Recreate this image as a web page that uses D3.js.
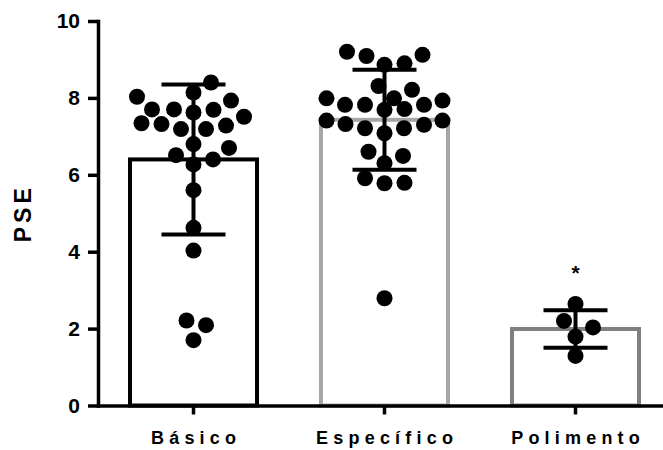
<!DOCTYPE html>
<html>
<head>
<meta charset="utf-8">
<script src="https://cdn.jsdelivr.net/npm/d3@7"></script>
<style>
  html, body { margin: 0; padding: 0; background: #fff; }
  svg { display: block; }
  text { font-family: "Liberation Sans", Arial, sans-serif; font-weight: bold; }
</style>
</head>
<body>
<script>
// PSE per group: individual scores, group mean and SD
const categories = ["Básico", "Específico", "Polimento"];
const basicoValues = [8.40, 8.03, 8.14, 7.93, 7.70, 7.70, 7.51, 7.69, 7.62, 7.34, 7.28, 7.19, 7.19,
  7.32, 6.70, 6.80, 6.40, 6.27, 6.51, 5.60, 4.62, 4.03, 2.21, 2.09, 1.70];
const especificoValues = [9.09, 8.90, 8.86, 9.12, 9.20, 8.21, 7.99, 7.82, 7.82, 7.82, 7.93, 7.99,
  8.31, 7.71, 7.69, 7.41, 7.32, 7.21, 7.21, 7.30, 7.41, 7.08, 6.49, 6.60, 6.30, 5.78, 5.79, 5.91, 2.79];
const polimentoValues = [2.64, 2.20, 2.03, 1.79, 1.29];
const means = [6.40, 7.43, 1.99];
const sds = [1.95, 1.30, 0.49];
const yTicks = [0, 2, 4, 6, 8, 10];
const yLabel = "PSE";
const significance = ["", "", "*"];

const groups = [basicoValues, especificoValues, polimentoValues];
const strokeColors = ["#000000", "#a6a6a8", "#808080"];

const W = 663, H = 450;
const svg = d3.select("body").append("svg").attr("width", W).attr("height", H);

const y = d3.scaleLinear().domain([0, 10]).range([405.5, 21]);
const x = d3.scaleBand().domain(categories).range([98, 671])
  .paddingInner(0.335).paddingOuter(0.1675);

// bars (open outlines)
svg.append("g").selectAll("rect").data(categories).join("rect")
  .attr("x", d => x(d))
  .attr("y", (d, i) => y(means[i]))
  .attr("width", x.bandwidth())
  .attr("height", (d, i) => y(0) - y(means[i]))
  .attr("fill", "#fff")
  .attr("stroke", (d, i) => strokeColors[i])
  .attr("stroke-width", 4);

// error bars: mean ± SD
const capHalf = 32;
const eb = svg.append("g").attr("stroke", "#000").attr("stroke-width", 4);
categories.forEach((c, i) => {
  const cx = x(c) + x.bandwidth() / 2;
  const top = y(means[i] + sds[i]), bot = y(means[i] - sds[i]);
  eb.append("line").attr("x1", cx).attr("x2", cx).attr("y1", top).attr("y2", bot);
  eb.append("line").attr("x1", cx - capHalf).attr("x2", cx + capHalf).attr("y1", top).attr("y2", top);
  eb.append("line").attr("x1", cx - capHalf).attr("x2", cx + capHalf).attr("y1", bot).attr("y2", bot);
});

// beeswarm: points are placed from the lowest value up, each taking the
// spot nearest the column centre that keeps an elliptical gap to the
// points already placed; spread is limited to maxOff either side
function swarm(values, cx, rx, ry, maxOff) {
  const pts = values.map(v => ({ v, py: y(v) })).sort((a, b) => a.v - b.v);
  const placed = [];
  const offsets = [0];
  for (let k = 1; k <= maxOff * 2; k++) offsets.push(k * 0.5, -k * 0.5);
  pts.forEach(p => {
    let best = null, bestPen = Infinity;
    for (const off of offsets) {
      const px = cx + off;
      let pen = 0;
      for (const q of placed) {
        const d = ((q.px - px) / rx) ** 2 + ((q.py - p.py) / ry) ** 2;
        if (d < 1) pen = Math.max(pen, 1 - d);
      }
      if (pen === 0) { best = px; break; }
      if (pen < bestPen - 1e-9) { bestPen = pen; best = px; }
    }
    p.px = best;
    placed.push(p);
  });
  return placed;
}

const dots = svg.append("g").attr("fill", "#000");
categories.forEach((c, i) => {
  const cx = x(c) + x.bandwidth() / 2;
  dots.selectAll(null).data(swarm(groups[i], cx, 20, 19, 58)).join("circle")
    .attr("cx", d => d.px).attr("cy", d => d.py).attr("r", 8);
});

// significance marks
svg.append("g").selectAll("text").data(categories).join("text")
  .attr("x", d => x(d) + x.bandwidth() / 2)
  .attr("y", (d, i) => y(means[i] + sds[i]) - 30)
  .attr("text-anchor", "middle")
  .attr("font-size", 21)
  .attr("font-weight", "normal")
  .text((d, i) => significance[i]);

// axes
const yAxis = svg.append("g").attr("transform", "translate(98,0)")
  .call(d3.axisLeft(y).tickValues(yTicks).tickFormat(d3.format("d")).tickSize(10).tickSizeOuter(0).tickPadding(8));
const xAxis = svg.append("g").attr("transform", `translate(0,${y(0)})`)
  .call(d3.axisBottom(x).tickSize(9).tickSizeOuter(0).tickPadding(17));

[yAxis, xAxis].forEach(g => {
  g.select(".domain").attr("stroke", "#000").attr("stroke-width", 3.5).attr("stroke-linecap", "square");
  g.selectAll(".tick line").attr("stroke", "#000").attr("stroke-width", 3.5);
  g.selectAll("text").attr("fill", "#000").attr("font-family", "'Liberation Sans', Arial, sans-serif")
    .attr("font-weight", "bold");
});
yAxis.selectAll("text").attr("font-size", 21);
xAxis.selectAll("text").attr("font-size", 18).style("letter-spacing", "5.2px")
  .attr("dx", "2.6px");

// y axis title
svg.append("text")
  .attr("transform", `translate(31,${(y(0) + y(10)) / 2}) rotate(-90)`)
  .attr("text-anchor", "middle")
  .attr("font-size", 23)
  .style("letter-spacing", "4px")
  .attr("fill", "#000")
  .text(yLabel);
</script>
</body>
</html>
